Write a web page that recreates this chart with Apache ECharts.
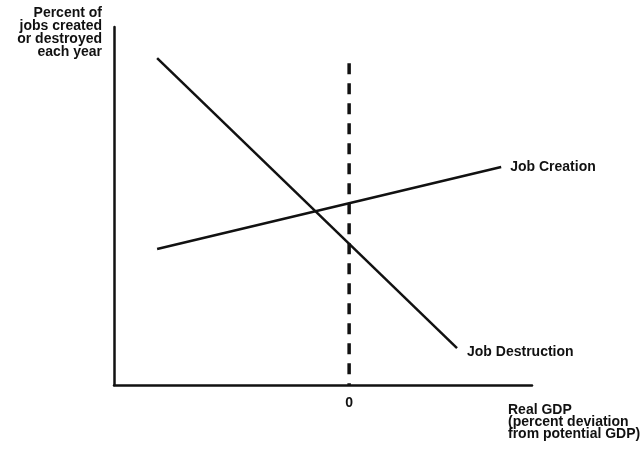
<!DOCTYPE html>
<html>
<head>
<meta charset="utf-8">
<script src="https://cdn.jsdelivr.net/npm/echarts@6/dist/echarts.min.js"></script>
<style>
  html, body { margin: 0; padding: 0; background: #fff; }
  #chart { width: 642px; height: 451px; }
</style>
</head>
<body>
<div id="chart"></div>
<script>
// schematic values: x = real GDP deviation, y = percent of jobs
var jobCreation = [[-7.35, 3.80], [5.82, 6.09]];
var jobDestruction = [[-7.35, 9.13], [4.13, 1.03]];
var zeroLine = [[0, 8.99], [0, 0]];
var xTicks = [0];

var chart = echarts.init(document.getElementById('chart'));
var font = "'Liberation Sans', Arial, sans-serif";

chart.setOption({
  animation: false,
  grid: { left: 114, top: 27, width: 418, height: 358 },
  xAxis: {
    type: 'value',
    min: -9,
    max: 7,
    interval: 1,
    splitLine: { show: false },
    axisTick: { show: false },
    axisLine: { onZero: false, lineStyle: { color: '#111', width: 2.5 } },
    axisLabel: {
      margin: 11,
      color: '#111',
      fontFamily: font,
      fontWeight: 'bold',
      fontSize: 14,
      formatter: function (v) { return xTicks.indexOf(v) >= 0 ? String(v) : ''; }
    }
  },
  yAxis: {
    type: 'value',
    min: 0,
    max: 10,
    splitLine: { show: false },
    axisTick: { show: false },
    axisLabel: { show: false },
    axisLine: { show: true, onZero: false, lineStyle: { color: '#111', width: 2.5 } }
  },
  graphic: [
    {
      type: 'text', x: 102, y: 7,
      style: {
        text: 'Percent of\njobs created\nor destroyed\neach year',
        align: 'right', fill: '#111', font: 'bold 14px ' + font, lineHeight: 13
      }
    },
    {
      type: 'text', x: 508, y: 404,
      style: {
        text: 'Real GDP\n(percent deviation\nfrom potential GDP)',
        fill: '#111', font: 'bold 14px ' + font, lineHeight: 12
      }
    }
  ],
  series: [
    {
      type: 'line', name: 'Job Creation', data: jobCreation, symbol: 'none',
      lineStyle: { color: '#111', width: 2.5 },
      endLabel: {
        show: true, formatter: 'Job Creation', distance: 9,
        color: '#111', fontFamily: font, fontWeight: 'bold', fontSize: 14
      }
    },
    {
      type: 'line', name: 'Job Destruction', data: jobDestruction, symbol: 'none',
      lineStyle: { color: '#111', width: 2.5 },
      endLabel: {
        show: true, formatter: 'Job Destruction', distance: 10, offset: [0, 4],
        color: '#111', fontFamily: font, fontWeight: 'bold', fontSize: 14
      }
    },
    {
      type: 'line', name: 'zero', data: zeroLine, symbol: 'none',
      lineStyle: { color: '#111', width: 3.5, type: [11, 9] }
    }
  ]
});
</script>
</body>
</html>
